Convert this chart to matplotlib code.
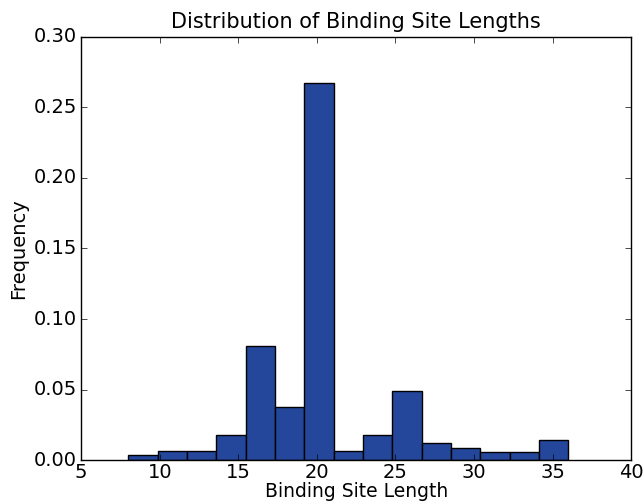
"""Histogram of binding site lengths."""

import matplotlib
matplotlib.use("Agg")
import matplotlib.pyplot as plt
import numpy as np

# bin range and per-bin density values
bin_start = 8
bin_stop = 36
n_bins = 15
frequency = [0.0038, 0.0064, 0.0064, 0.018, 0.081, 0.038, 0.267, 0.0062,
             0.0177, 0.0493, 0.012, 0.0085, 0.0059, 0.0059, 0.0146]

x_ticks = [5, 10, 15, 20, 25, 30, 35, 40]
y_ticks = [0.00, 0.05, 0.10, 0.15, 0.20, 0.25, 0.30]

plt.style.use("classic")

edges = np.linspace(bin_start, bin_stop, n_bins + 1)

fig = plt.figure(figsize=(6.44, 5.04), dpi=100, facecolor="white")
ax = fig.add_axes([0.126, 0.087, 0.854, 0.840])
ax.bar(edges[:-1], frequency, width=np.diff(edges), align="edge",
       color="#24479c", edgecolor="black", linewidth=1)

ax.set_xlim(5, 40)
ax.set_ylim(0, 0.30)
ax.set_xticks(x_ticks)
ax.set_yticks(y_ticks)
ax.set_yticklabels([f"{v:.2f}" for v in y_ticks])
ax.tick_params(labelsize=14, pad=3)
ax.tick_params(axis="x", pad=2)
ax.set_title("Distribution of Binding Site Lengths", fontsize=15, y=1.005)
ax.set_xlabel("Binding Site Length", fontsize=13.5, labelpad=0)
ax.set_ylabel("Frequency", fontsize=14, labelpad=4)

fig.savefig("out.png", dpi=100, facecolor="white")
